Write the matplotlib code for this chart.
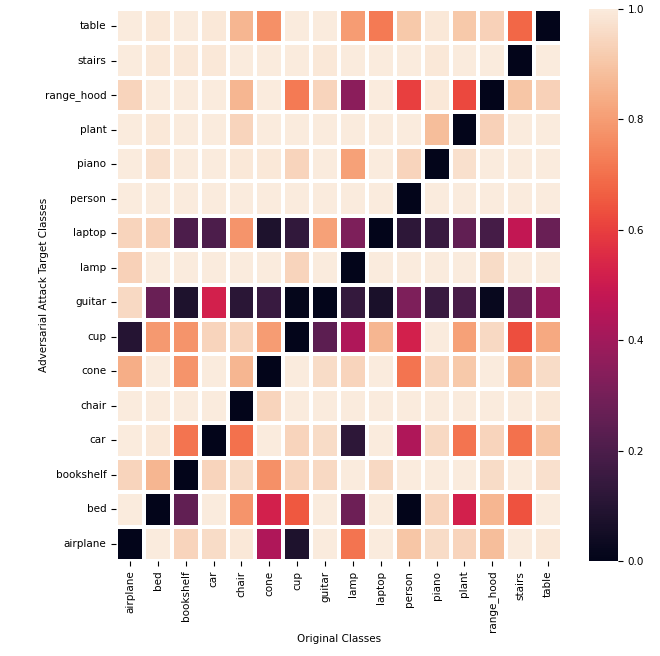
import numpy as np
import matplotlib
matplotlib.use("Agg")
import matplotlib.pyplot as plt
import seaborn as sns

classes = ["airplane", "bed", "bookshelf", "car", "chair", "cone", "cup", "guitar",
           "lamp", "laptop", "person", "piano", "plant", "range_hood", "stairs", "table"]

# rows = adversarial target class (airplane .. table), cols = original class
airplane   = [0.00, 1.00, 0.94, 0.96, 0.99, 0.43, 0.08, 1.00, 0.71, 1.00, 0.90, 0.96, 0.94, 0.88, 1.00, 0.99]
bed        = [1.00, 0.00, 0.25, 1.00, 0.78, 0.52, 0.65, 1.00, 0.28, 1.00, 0.00, 0.94, 0.52, 0.86, 0.64, 1.00]
bookshelf  = [0.94, 0.86, 0.00, 0.94, 0.96, 0.77, 0.94, 0.95, 1.00, 0.95, 1.00, 1.00, 1.00, 0.96, 1.00, 0.97]
car        = [1.00, 0.99, 0.71, 0.00, 0.70, 1.00, 0.94, 0.96, 0.12, 1.00, 0.43, 0.95, 0.71, 0.94, 0.70, 0.90]
chair      = [1.00, 1.00, 1.00, 1.00, 0.00, 0.94, 1.00, 1.00, 1.00, 1.00, 1.00, 1.00, 1.00, 1.00, 1.00, 0.99]
cone       = [0.84, 1.00, 0.78, 1.00, 0.86, 0.00, 1.00, 0.96, 0.94, 1.00, 0.71, 0.94, 0.91, 1.00, 0.86, 0.96]
cup        = [0.10, 0.79, 0.78, 0.94, 0.94, 0.80, 0.00, 0.24, 0.43, 0.86, 0.52, 1.00, 0.81, 0.95, 0.63, 0.83]
guitar     = [0.95, 0.27, 0.08, 0.52, 0.11, 0.15, 0.01, 0.00, 0.14, 0.07, 0.32, 0.15, 0.19, 0.02, 0.27, 0.38]
lamp       = [0.93, 1.00, 1.00, 1.00, 1.00, 1.00, 0.94, 1.00, 0.00, 1.00, 1.00, 1.00, 1.00, 0.96, 1.00, 1.00]
laptop     = [0.94, 0.93, 0.20, 0.20, 0.78, 0.08, 0.13, 0.81, 0.32, 0.00, 0.12, 0.15, 0.25, 0.18, 0.48, 0.27]
person     = [1.00, 1.00, 1.00, 1.00, 1.00, 1.00, 1.00, 1.00, 1.00, 1.00, 0.00, 1.00, 1.00, 1.00, 1.00, 1.00]
piano      = [1.00, 0.97, 1.00, 1.00, 0.99, 0.99, 0.94, 1.00, 0.81, 1.00, 0.94, 0.00, 0.97, 1.00, 1.00, 1.00]
plant      = [1.00, 0.99, 1.00, 1.00, 0.94, 1.00, 1.00, 1.00, 1.00, 1.00, 1.00, 0.88, 0.00, 0.93, 1.00, 1.00]
range_hood = [0.94, 1.00, 1.00, 1.00, 0.86, 1.00, 0.72, 0.94, 0.35, 1.00, 0.60, 0.99, 0.62, 0.00, 0.90, 0.93]
stairs     = [1.00, 0.99, 0.99, 0.99, 1.00, 1.00, 1.00, 0.99, 1.00, 1.00, 1.00, 0.99, 1.00, 1.00, 0.00, 1.00]
table      = [1.00, 0.99, 1.00, 0.99, 0.86, 0.77, 1.00, 1.00, 0.80, 0.72, 0.91, 0.99, 0.91, 0.93, 0.68, 0.00]

rows = [airplane, bed, bookshelf, car, chair, cone, cup, guitar,
        lamp, laptop, person, piano, plant, range_hood, stairs, table]
mat = np.array(rows)

plt.rcParams['font.size'] = 7.5
fig = plt.figure(figsize=(6.6, 6.56), dpi=100)
ax = fig.add_axes([0.1758, 0.1448, 0.6758, 0.8415])
cax = fig.add_axes([0.8924, 0.1448, 0.0439, 0.8415])

# airplane at the bottom, table at the top
sns.heatmap(mat[::-1], ax=ax, cbar_ax=cax, cmap="rocket", vmin=0, vmax=1,
            linewidths=1.5, linecolor="white",
            xticklabels=classes, yticklabels=classes[::-1])

ax.set_xticklabels(classes, rotation=90, fontsize=7.5)
ax.set_yticklabels(classes[::-1], rotation=0, fontsize=7.5)
ax.set_xlabel("Original Classes", fontsize=7.5, labelpad=1)
ax.set_ylabel("Adversarial Attack Target Classes", fontsize=7.5, labelpad=-3)
cax.tick_params(labelsize=7.5)
cax.set_yticks([0, 0.2, 0.4, 0.6, 0.8, 1.0])
for sp in cax.spines.values():
    sp.set_visible(False)

fig.savefig("out.png", dpi=100)
